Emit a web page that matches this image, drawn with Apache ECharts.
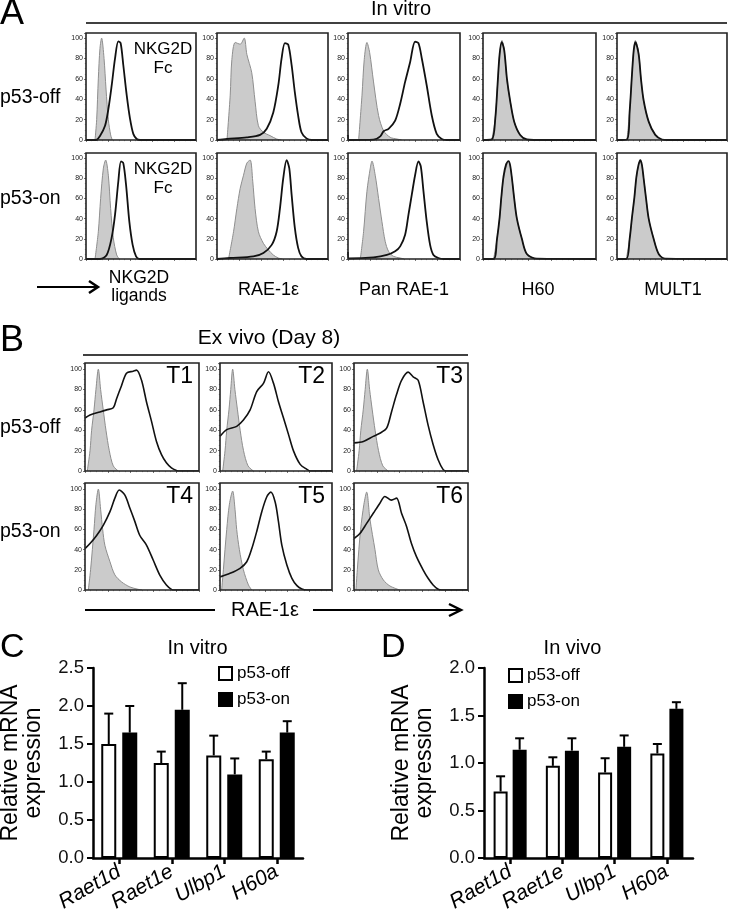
<!DOCTYPE html>
<html>
<head>
<meta charset="utf-8">
<script src="https://cdn.jsdelivr.net/npm/echarts@6/dist/echarts.min.js"></script>
<style>
html,body{margin:0;padding:0;background:#fff;}
#c{width:731px;height:921px;}
</style>
</head>
<body>
<div id="c"></div>
<script>
// ---------------- DATA ----------------
// Histogram curves: [x (% of channel range), y (% of max)]
// Panel A, p53-off row
const A_off_NKG2D_iso = [[8.2,0],[9.7,20],[11.2,60],[12.7,90],[14.2,100],[16.4,80],[18.2,50],[20.3,20],[22.4,5],[23.9,0]];
const A_off_NKG2D_fc  = [[0,0],[9.1,0],[12.7,4],[17.3,14],[20.3,30],[23.3,53],[26.4,80],[29.4,96.7],[31.5,95],[33.9,73.6],[37.0,44],[40.0,21],[43.0,6],[46.1,1],[49.1,0],[100,0]];
const A_off_RAE1e_iso = [[9.0,0],[11.9,44],[13.4,79],[16.4,95.7],[20.9,94],[24.5,100],[26.9,84],[31.3,66],[34.3,38],[37.3,14],[41.8,7.6],[47.8,4.3],[53.7,1],[58,0]];
const A_off_RAE1e_ab  = [[0,0],[9.0,1],[26.9,2.6],[38.8,5],[44.8,11],[50.7,27],[55.2,53.5],[58.2,80],[61.2,95],[64.2,93.4],[67.2,73.6],[70.1,47],[73.1,24],[76.1,7.6],[80.6,1.6],[85.1,0],[100,0]];
const A_off_Pan_iso   = [[9.5,0],[12.5,44],[14.5,79],[16.9,95.7],[19.3,86],[22.8,57],[27.3,24],[31.8,9],[37.7,2.6],[43.6,1],[48,0]];
const A_off_Pan_ab    = [[0,5],[1,0],[22.8,0.3],[28.8,3.6],[31.8,8.6],[36.2,11],[42.1,19],[46.6,35.6],[51.0,57],[55.5,76.6],[59.9,96.4],[62.9,95],[65.9,80],[70.3,53.5],[74.8,24],[79.2,6],[83.7,1],[88.1,0],[100,0]];
const A_off_H60_iso   = [[7.9,0.6],[10.9,21.5],[12.9,54.6],[14.7,84],[16.8,97.7],[18.8,87.7],[21.2,58],[24.1,38],[27.6,18],[32.9,5],[38.8,0]];
const A_off_H60_ab    = [[0,0],[7.9,0.6],[10.9,21.5],[12.9,54.6],[14.7,84],[16.6,96],[18.8,88],[21.2,60],[24.1,38],[27.6,18],[32.9,5],[38.8,0.5],[45,0],[100,0]];
const A_off_MULT1_iso = [[9.1,0.6],[11.5,28],[13.6,64.6],[15.2,87.7],[16.7,97.7],[19.7,85],[21.8,60],[24.2,38],[28.8,18],[34.8,5],[40.9,0]];
const A_off_MULT1_ab  = [[0,0],[9.1,0.6],[11.5,28],[13.6,64],[15.2,88],[16.7,96],[19.7,84],[21.8,60],[24.2,39],[28.8,18],[34.8,5],[40.9,0.5],[46,0],[100,0]];
// Panel A, p53-on row
const A_on_NKG2D_iso  = [[8.2,0],[11.2,27],[13.3,60],[15.8,90],[17.9,98],[20.3,83],[22.4,50],[24.8,21],[27.9,4],[30.3,0]];
const A_on_NKG2D_fc   = [[0,0],[12.7,0],[18.8,4],[23.3,21],[26.4,44],[29.4,77],[31.8,96.7],[33.9,95],[36.4,73.6],[39.4,37],[42.4,14],[45.5,2.6],[48.5,0],[100,0]];
const A_on_RAE1e_iso  = [[10.4,0],[14.9,27],[17.9,50],[20.9,70],[23.9,83],[26.9,95],[29.9,98],[32.2,77],[34.3,50],[37.3,27],[41.8,15.5],[46.3,9],[50.7,4],[55.2,1],[59,0]];
const A_on_RAE1e_ab   = [[0,0],[11.9,1],[32.8,2.6],[41.8,6],[49.3,14],[53.7,27],[56.7,50],[59.7,80],[62.7,98],[65.1,90],[67.2,64],[70.1,31],[73.1,11],[76.1,2.6],[80.6,0],[100,0]];
const A_on_Pan_iso    = [[11.0,0],[13.9,27],[16.9,67],[19.9,90],[21.4,97],[24.3,83],[27.3,60],[30.3,37],[33.2,17.5],[36.2,7.6],[40.7,2.6],[46.6,1],[50,0]];
const A_on_Pan_ab     = [[0,7],[1,0.5],[22.8,1.6],[34.7,4],[42.1,7.6],[46.6,12.5],[51.0,24],[54.0,44],[57.0,64],[59.9,83],[62.9,96.7],[65.0,91.7],[67.4,67],[70.3,37],[73.3,14],[76.3,4],[80.7,1],[85.2,0],[100,0]];
const A_on_H60_iso    = [[9.4,0],[12.4,20],[14.7,40],[16.2,60],[18.2,80],[22.6,97],[25.6,80],[27.6,60],[30.0,40],[34.4,20],[38.8,5],[47.6,0]];
const A_on_H60_ab     = [[0,0],[9.4,0],[12.4,20],[14.7,41],[16.2,61],[18.2,82],[20.5,94],[22.6,97],[24,93],[25.6,80],[27.6,60],[30.0,40],[34.4,20],[38.8,5],[47.6,0.3],[100,0]];
const A_on_MULT1_iso  = [[8.5,0],[11.5,20],[13.6,40],[15.8,60],[17.6,80],[21.2,98],[24.2,80],[26.4,60],[28.8,40],[33.3,20],[37.9,5],[43.9,0]];
const A_on_MULT1_ab   = [[0,0],[8.5,0],[11.5,20],[13.6,41],[15.8,61],[17.6,81],[19.5,93],[21.2,98],[22.7,93],[24.2,80],[26.4,60],[28.8,40],[33.3,20],[37.9,5],[43.9,0.3],[100,0]];
// Panel B, ex vivo tumours T1..T6 (isotype / RAE-1e)
const B_T1_iso = [[2.0,0],[4.4,20],[5.8,40],[7.9,60],[9.6,80],[11.7,100],[13.7,80],[16.0,60],[18.4,40],[21.3,20],[24.8,5],[29.2,0]];
const B_T1_ab  = [[0,52],[4.4,55],[13.1,58],[19.0,60],[24.8,62],[27.7,71],[32.1,84],[36.4,96],[42.3,98],[45.2,99],[49.6,89],[53.9,68],[58.3,49],[62.7,29],[67.1,16],[71.4,8],[75.8,3],[80.2,0.6],[83.1,0],[100,0]];
const B_T2_iso = [[2.4,0],[4.5,20],[6.0,40],[8.0,60],[9.6,80],[11.3,100],[13.3,80],[15.6,60],[18.0,40],[21.0,20],[25.0,5],[29.9,0]];
const B_T2_ab  = [[0,34],[6.0,40.6],[14.9,43.8],[20.9,50],[26.9,60],[32.8,78],[38.8,86],[43.3,97.4],[47.8,86],[52.2,68],[56.7,52],[61.2,35.7],[65.7,19.5],[71.6,6.5],[77.6,1.6],[80.6,0],[100,0]];
const B_T3_iso = [[2.3,0],[4.5,20],[6.0,40],[8.1,60],[9.8,80],[11.7,100],[13.7,80],[16.0,60],[18.5,40],[21.5,20],[25.3,5],[30,0]];
const B_T3_ab  = [[0,27.6],[8.2,29],[16.9,34],[22.7,37],[28.6,42],[32.9,58],[37.3,75],[41.7,89],[47.5,97],[51.9,92.5],[56.3,89],[60.6,68],[65.0,45],[69.4,26],[73.8,11],[78.1,1.6],[81.0,0],[100,0]];
const B_T4_iso = [[2.9,0],[4.9,20],[7.9,60],[9.6,85],[11.7,100],[13.7,80],[15.5,60],[17.5,44],[21.9,28],[26.2,15],[32.1,8],[39.4,3],[46.6,0.7],[50,0]];
const B_T4_ab  = [[0,41],[4.4,46],[10.2,54],[16.0,64],[21.9,77.6],[26.2,91],[30.0,99],[35.0,94],[39.4,81],[43.7,68],[48.1,54],[53.9,44.5],[59.8,29.7],[65.6,14.8],[71.4,5],[75.8,0.7],[78,0],[100,0]];
const B_T5_iso = [[1.5,0],[3.0,20],[6.0,60],[8.4,85],[11.3,98],[13.4,80],[14.9,60],[17.3,40],[20.9,20],[25.4,5],[28.4,0]];
const B_T5_ab  = [[0,13],[9.0,16.5],[17.9,21.5],[23.9,28],[28.4,41],[32.8,58],[37.3,77.6],[41.8,92.4],[45.4,97],[49.3,87],[52.2,67.7],[55.2,44.5],[59.7,24.8],[64.2,11.6],[68.7,4.3],[73.1,1],[77.6,0],[100,0]];
const B_T6_iso = [[1.7,0],[2.9,20],[5.8,60],[8.7,85],[11.1,97],[14.0,70],[18.4,40],[21.3,20],[25.7,10],[31.5,4],[40.2,0]];
const B_T6_ab  = [[0,51],[5.2,56],[11.1,66],[16.9,76],[22.7,86],[27.1,92.7],[32.9,89],[37.3,91],[41.7,76],[46.1,63],[50.4,46],[54.8,33],[60.6,20],[65.0,11.6],[69.4,5],[73.8,0.7],[76.7,0],[100,0]];

// Histogram tick labels
const histTicks = [0,20,40,60,80,100];

// Panels C / D: relative mRNA expression
const genes = ['Raet1d','Raet1e','Ulbp1','H60a'];
const C_off = [1.50, 1.25, 1.35, 1.30];
const C_off_err = [0.40, 0.15, 0.26, 0.10];
const C_on  = [1.65, 1.95, 1.10, 1.65];
const C_on_err  = [0.35, 0.35, 0.21, 0.15];
const D_off = [0.70, 0.97, 0.90, 1.10];
const D_off_err = [0.16, 0.09, 0.15, 0.10];
const D_on  = [1.14, 1.13, 1.17, 1.57];
const D_on_err  = [0.12, 0.13, 0.12, 0.07];

// ---------------- LAYOUT ----------------
const FONT = "'Liberation Sans', Arial, Helvetica, sans-serif";
const A_cols = [[86,110],[217,111],[348,112],[483,113],[617,110]];
const A_rows = [[33,107],[153,106]];
const B_cols = [[85,114],[220,112],[354,114]];
const B_rows = [[363,108],[483,107]];

const grids=[], xAxes=[], yAxes=[], series=[], graphics=[];

function addHist(left, top, width, height, ymax, iso, ab, lw) {
  const i = grids.length;
  grids.push({left:left, top:top, width:width, height:height, show:false});
  xAxes.push({gridIndex:i, type:'value', min:0, max:100, interval:20,
    axisLine:{show:false}, axisLabel:{show:false}, splitLine:{show:false},
    axisTick:{show:true, length:2, lineStyle:{color:'#555', width:0.8}},
    minorTick:{show:true, splitNumber:4, length:1.2, lineStyle:{color:'#777', width:0.6}}});
  yAxes.push({gridIndex:i, type:'value', min:0, max:ymax, interval:20,
    axisLine:{show:false}, splitLine:{show:false},
    axisTick:{show:true, length:2, lineStyle:{color:'#555', width:0.8}},
    minorTick:{show:true, splitNumber:4, length:1.2, lineStyle:{color:'#777', width:0.6}},
    axisLabel:{fontSize:7, color:'#222', margin:3, fontFamily:FONT,
      formatter: function(v){ return histTicks.indexOf(v) >= 0 ? String(v) : ''; }}});
  series.push({type:'line', xAxisIndex:i, yAxisIndex:i, data:iso, smooth:0.3, symbol:'none',
    lineStyle:{color:'#8e8e8e', width:1}, areaStyle:{color:'#cbcbcb', opacity:1}, z:2, silent:true});
  series.push({type:'line', xAxisIndex:i, yAxisIndex:i, data:ab, smooth:0.3, symbol:'none',
    lineStyle:{color:'#111', width:lw}, z:3, silent:true});
  graphics.push({type:'rect', shape:{x:left, y:top, width:width, height:height},
    style:{fill:null, stroke:'#222', lineWidth:1.6}, z:100, silent:true});
}

const A_sets = [
  [[A_off_NKG2D_iso,A_off_NKG2D_fc],[A_off_RAE1e_iso,A_off_RAE1e_ab],[A_off_Pan_iso,A_off_Pan_ab],[A_off_H60_iso,A_off_H60_ab],[A_off_MULT1_iso,A_off_MULT1_ab]],
  [[A_on_NKG2D_iso,A_on_NKG2D_fc],[A_on_RAE1e_iso,A_on_RAE1e_ab],[A_on_Pan_iso,A_on_Pan_ab],[A_on_H60_iso,A_on_H60_ab],[A_on_MULT1_iso,A_on_MULT1_ab]]
];
A_rows.forEach((r,ri)=>A_cols.forEach((c,ci)=>addHist(c[0], r[0], c[1], r[1], 105, A_sets[ri][ci][0], A_sets[ri][ci][1], 1.8)));
const B_sets = [
  [[B_T1_iso,B_T1_ab],[B_T2_iso,B_T2_ab],[B_T3_iso,B_T3_ab]],
  [[B_T4_iso,B_T4_ab],[B_T5_iso,B_T5_ab],[B_T6_iso,B_T6_ab]]
];
B_rows.forEach((r,ri)=>B_cols.forEach((c,ci)=>addHist(c[0], r[0], c[1], r[1], 106, B_sets[ri][ci][0], B_sets[ri][ci][1], 1.6)));

function addBars(left, top, width, height, ymax, off, offErr, on, onErr, bw, gap) {
  const i = grids.length;
  grids.push({left:left, top:top, width:width, height:height, show:false});
  xAxes.push({gridIndex:i, type:'category', data:genes,
    axisLine:{show:true, lineStyle:{color:'#000', width:2.5}},
    axisTick:{show:true, alignWithLabel:true, length:6, lineStyle:{color:'#000', width:2.5}},
    axisLabel:{interval:0, rotate:30, fontStyle:'italic', fontSize:21, color:'#000', margin:12, fontFamily:FONT}});
  yAxes.push({gridIndex:i, type:'value', min:0, max:ymax, interval:0.5,
    axisLine:{show:true, lineStyle:{color:'#000', width:2.5}},
    axisTick:{show:true, length:6, lineStyle:{color:'#000', width:2}},
    splitLine:{show:false},
    axisLabel:{fontSize:18.5, color:'#111', margin:9, fontFamily:FONT, formatter:function(v){return v.toFixed(1);}}});
  const off2 = (bw + bw*gap)/2;
  series.push({type:'bar', name:'p53-off', xAxisIndex:i, yAxisIndex:i, data:off, barWidth:bw, barGap:(gap*100)+'%',
    itemStyle:{color:'#fff', borderColor:'#000', borderWidth:2}, z:3, silent:true});
  series.push({type:'bar', name:'p53-on', xAxisIndex:i, yAxisIndex:i, data:on, barWidth:bw, barGap:(gap*100)+'%',
    itemStyle:{color:'#000', borderColor:'#000', borderWidth:2}, z:3, silent:true});
  [[off,offErr,-off2],[on,onErr,off2]].forEach(function(s){
    series.push({type:'custom', xAxisIndex:i, yAxisIndex:i, z:2, silent:true,
      data: s[0].map(function(v,k){return [k, v, v + s[1][k]];}),
      renderItem: function(params, api){
        const p0 = api.coord([api.value(0), api.value(1)]);
        const p1 = api.coord([api.value(0), api.value(2)]);
        const x = p0[0] + s[2];
        return {type:'group', children:[
          {type:'line', shape:{x1:x, y1:p0[1], x2:x, y2:p1[1]}, style:{stroke:'#000', lineWidth:2}},
          {type:'line', shape:{x1:x-4.5, y1:p1[1], x2:x+4.5, y2:p1[1]}, style:{stroke:'#000', lineWidth:2}}
        ]};
      }});
  });
}
addBars(93, 668, 210, 190, 2.5, C_off, C_off_err, C_on, C_on_err, 15, 0.4);
addBars(484, 668, 209, 190, 2.0, D_off, D_off_err, D_on, D_on_err, 14, 0.36);

// ---------------- TEXT & DECORATION ----------------
function T(text, x, y, size, align, extra) {
  const st = Object.assign({text:text, x:0, y:0, fill:'#000', font: size+'px '+FONT,
    align: align || 'left', verticalAlign:'middle'}, extra || {});
  graphics.push({type:'text', x:x, y:y, style:st, z:100, silent:true});
}
function L(x1,y1,x2,y2,w){
  graphics.push({type:'line', shape:{x1:x1,y1:y1,x2:x2,y2:y2}, style:{stroke:'#000', lineWidth:w}, z:100, silent:true});
}
function head(x, y, w, h){
  graphics.push({type:'polyline', shape:{points:[[x-w,y-h],[x,y],[x-w,y+h]]},
    style:{stroke:'#000', lineWidth:2.5, fill:null, lineJoin:'miter'}, z:100, silent:true});
}
// Panel A
T('A', 0, 14, 36);
T('In vitro', 401, 9, 20, 'center');
L(86, 23, 727, 23, 1.3);
T('p53-off', 0, 98, 19.5);
T('p53-on', 0, 199, 19.5);
T('NKG2D', 163, 49.5, 17, 'center'); T('Fc', 163, 68, 17, 'center');
T('NKG2D', 163, 169.5, 17, 'center'); T('Fc', 163, 188, 17, 'center');
T('NKG2D', 139, 278, 17.5, 'center'); T('ligands', 139, 296, 17.5, 'center');
L(37, 287, 96, 287, 2.2); head(98, 287, 9, 6);
T('RAE-1ε', 268.5, 290, 18, 'center');
T('Pan RAE-1', 404, 290, 18, 'center');
T('H60', 538, 290, 18, 'center');
T('MULT1', 673, 290, 18, 'center');
// Panel B
T('B', 0, 341.5, 36);
T('Ex vivo (Day 8)', 269, 338, 21, 'center');
L(83, 355, 468, 355, 1.3);
T('p53-off', 0, 428, 19.5);
T('p53-on', 0, 532, 19.5);
T('T1', 193, 377, 23, 'right'); T('T2', 325, 377, 23, 'right'); T('T3', 463, 377, 23, 'right');
T('T4', 193, 497, 23, 'right'); T('T5', 325, 497, 23, 'right'); T('T6', 463, 497, 23, 'right');
L(85, 610, 215, 610, 2.2);
T('RAE-1ε', 265, 610, 20, 'center');
L(313, 610, 459, 610, 2.2); head(461, 610, 12, 6);
// Panel C / D
T('C', 0, 648, 34);
T('In vitro', 197.5, 648, 20, 'center');
T('D', 381, 648, 34);
T('In vivo', 572.5, 648, 20, 'center');
[22, 413].forEach(function(cx){
  graphics.push({type:'text', x:cx, y:763, rotation:Math.PI/2, z:100, silent:true,
    style:{text:'Relative mRNA\nexpression', x:0, y:0, fill:'#000', font:'23px '+FONT,
      align:'center', verticalAlign:'middle', lineHeight:23}});
});

const legendCommon = {orient:'vertical', itemWidth:13, itemHeight:13, itemGap:9, icon:'rect',
  data:['p53-off','p53-on'], padding:0, selectedMode:false,
  textStyle:{fontSize:17, fontFamily:FONT, color:'#000'}};

const chart = echarts.init(document.getElementById('c'), null, {renderer:'canvas', width:731, height:921});
chart.setOption({
  animation:false,
  backgroundColor:'#fff',
  grid:grids, xAxis:xAxes, yAxis:yAxes, series:series,
  legend:[Object.assign({left:218, top:665}, legendCommon), Object.assign({left:508, top:667}, legendCommon)],
  graphic:{elements:graphics}
});
</script>
</body>
</html>
